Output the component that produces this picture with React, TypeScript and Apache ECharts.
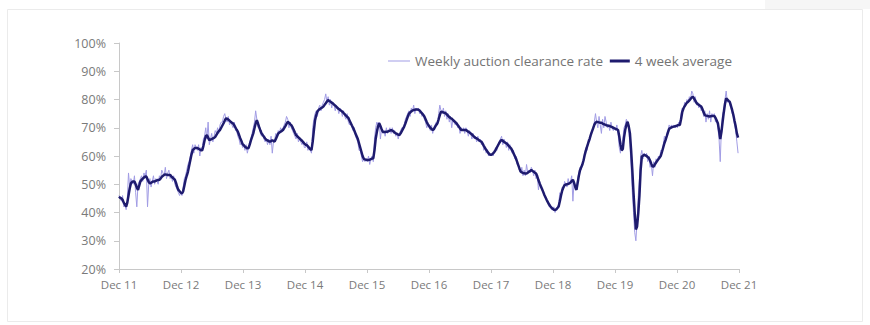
import React, { useEffect, useRef } from "react";
import * as echarts from "echarts";

// Week index 0 = first week of Dec 2011, one value per week
const weeklyRate = [
  46,45,44,46,42,43,41,45,54,49,52,51,50,53,47,42,50,51,52,53,51,54,53,55,42,50,52,49,51,53,50,52,51,50,53,52,55,54,53,56,52,54,55,52,53,51,53,50,49,48,47,46,47,
  46,49,52,53,55,57,58,60,62,64,61,64,63,62,64,60,63,62,66,67,70,66,72,64,66,68,65,67,69,68,70,68,71,72,72,74,75,73,72,74,71,72,71,70,72,69,69,67,66,64,65,63,
  64,62,64,61,63,65,66,68,70,72,76,73,70,70,68,67,68,66,65,66,64,66,64,67,61,65,66,68,67,69,68,70,69,70,71,72,74,73,70,72,70,69,68,67,66,68,65,66,65,64,65,63,
  63,65,62,63,62,61,70,73,75,76,74,77,78,76,78,79,80,82,79,81,78,80,77,79,78,76,78,77,75,77,76,74,76,74,73,75,72,71,72,70,69,70,67,66,65,62,62,60,58,59,58,59,
  58,60,57,59,60,58,66,70,72,71,72,66,70,68,69,67,70,68,69,70,68,70,68,69,67,68,66,68,69,70,70,71,73,74,75,76,74,77,76,78,75,77,76,77,75,76,74,75,73,72,70,71,
  70,69,71,68,70,71,72,71,75,78,76,75,77,74,76,73,75,72,74,70,73,72,71,72,70,71,68,70,69,70,68,70,69,67,69,68,66,68,66,67,65,67,65,66,64,65,62,63,61,62,60,61,
  60,61,60,62,63,62,64,65,66,67,64,66,65,63,65,62,64,62,61,62,59,60,57,57,55,54,56,53,55,53,57,54,55,54,56,55,53,55,52,53,48,51,49,48,47,46,45,44,44,42,42,41,
  41,42,40,41,42,43,47,46,49,48,51,50,49,52,50,51,53,44,51,48,49,52,54,56,55,58,59,61,63,62,66,65,68,69,70,72,75,72,70,74,71,68,73,70,74,72,70,71,69,72,70,69,
  70,69,71,68,63,61,64,66,70,71,73,72,69,64,56,47,40,33,30,37,46,52,60,62,59,61,60,61,58,60,56,57,53,58,56,59,58,60,59,62,61,64,67,65,68,69,71,70,71,70,71,70,
  71,70,72,71,75,77,76,79,78,80,79,81,80,83,82,79,81,78,79,77,78,76,77,74,76,72,75,73,76,72,75,74,75,72,73,70,66,58,70,75,76,80,83,79,80,78,77,75,74,71,69,65,61,
];

const fourWeekAvg = [
  45.6,45.2,45,44.5,43.5,42.8,42.1,43.5,46,48.5,50.3,50.8,51,51,50,48.8,48,49.5,51,51.6,52,52.4,52.7,52.7,51.8,50.8,50.3,50.5,50.8,51,51,51.2,51.4,51.5,51.6,52,52.6,53,53.3,53.5,53.4,53.3,53.3,53.3,52.8,52.4,52,51.6,50.5,49,48,47.5,47,
  46.8,47.5,49.5,51.5,53,54.4,56.5,58.5,60.5,62.1,62.5,62.8,62.8,62.8,62.6,62.3,62,62,63.5,65.5,67,67.4,66.5,65.6,65.8,66,66.2,66.4,66.8,67.5,68.2,68.8,69.2,70,70.8,71.6,72.5,73.3,73.2,72.9,72.5,72.1,71.8,71.5,70.9,70.1,69.3,68.6,67.5,66.3,65.3,64.2,
  63.8,63.3,63,62.7,62.8,64,65.5,66.8,68,69.8,71.5,72.7,71.5,70.2,69,68,67.4,66.8,66.2,65.7,65.5,65.2,65.1,65.3,65.6,65.3,65.1,66,67,68,68.3,68.6,68.9,69.2,69.9,70.6,71.4,72.1,71.8,71.3,70.9,70.2,69.3,68.3,67.4,67,66.6,66.2,65.8,65.4,64.9,64.4,
  64,63.9,63.4,62.9,62.4,62.1,65,69,72.7,74.5,75.8,76.3,76.6,76.9,77.2,77.5,78.1,78.7,79.3,79.8,79.5,79.2,78.9,78.6,78.2,77.8,77.4,77,76.6,76.3,76,75.7,75.2,74.8,74.3,73.9,73.5,72.6,71.7,70.8,70,69,68,67,66,64.5,63,61.5,60,59,58.8,58.7,
  58.6,58.6,58.7,58.9,59.1,59.2,62,66,68.5,70.5,71.6,70.6,69.5,68.6,68.5,68.5,68.6,68.6,68.8,69,69.2,69,68.7,68.3,68,67.8,67.6,67.4,68,68.8,69.6,70.4,71.5,72.7,73.9,75,75.4,75.8,76.1,76.3,76.4,76.5,76.5,76.4,76.1,75.6,75.1,74.6,74,73,72,71.2,
  70.6,70,69.6,69.2,69.5,70.3,71,71.6,73,74.5,75.7,75.6,75.4,75.3,75.1,74.7,74.2,73.8,73.4,73.2,72.8,72.4,72,71.6,71,70.4,69.8,69.2,69.2,69.2,69.2,69.2,68.9,68.6,68.3,68,67.6,67.2,66.8,66.4,66.2,65.9,65.6,65.3,65.1,64.4,63.6,62.9,62.2,61.6,61,60.5,
  60.4,60.6,61,61.5,62.2,63,63.8,64.6,65.3,65.7,65.4,65,64.7,64.5,64.1,63.6,63.1,62.7,61.9,61,60.1,59.2,58,56.8,55.6,54.5,54.2,54,53.9,53.8,53.8,54.1,54.4,54.7,55,54.7,54.4,54.1,53.8,52.8,51.5,50.3,49.3,48.3,47.3,46.2,45.3,44.4,43.6,42.8,42.2,41.7,
  41.3,41,40.9,41.1,41.6,42.1,44,46,47.8,48.9,49.7,49.9,50,50.1,50.3,50.6,51.1,51.6,50.5,49,48,50.5,53,55,56,57,58.5,60.5,62.1,63.4,64.7,66,67.4,68.6,69.8,71,71.8,72.1,72,71.9,71.8,71.8,71.5,71.3,71.1,70.9,70.8,70.7,70.6,70.4,70.2,70,
  69.8,69.6,69.4,69.2,67,64,62,62.5,66.5,69.2,71,72.1,70.5,68,62,55,47,40,34,35,39.7,46,55,59.8,60.1,60.4,60.2,60,59.6,59.2,58.3,57.2,56.3,56.3,57,57.7,58.3,58.9,59.5,60.1,61.5,63,64.5,65.7,67,68.4,69.6,69.9,70.1,70.3,70.4,70.5,
  70.7,70.8,71,71,73,75.5,76.8,77.6,78.3,78.9,79.2,79.7,80.2,80.7,81,80.3,79.6,78.8,78.4,78.1,77.8,77.5,76.6,75.5,74.5,74.3,74.2,74.1,74,74.1,74.2,74.2,74.2,73.5,72.6,71.6,69,66,68.5,72.1,75.5,78.5,80.4,80,79.5,79.2,77.8,76.3,74.6,72.5,70.5,68,66.5,
];

const yearLabels = ["Dec 11", "Dec 12", "Dec 13", "Dec 14", "Dec 15", "Dec 16", "Dec 17", "Dec 18", "Dec 19", "Dec 20", "Dec 21"];
const seriesNames = ["Weekly auction clearance rate", "4 week average"];

const FONT = "'Open Sans', sans-serif";
const WEEKLY_COLOR = "#a19ce4";
const AVG_COLOR = "#1e1b6e";

export default function App() {
  const ref = useRef<HTMLDivElement>(null);
  useEffect(() => {
    if (!ref.current) return;
    const chart = echarts.init(ref.current, null, { renderer: "svg" });
    const toPoint = (v: number, i: number) => [(i * 7) / 365.25, v];
    const legendText = { color: "#747474", fontSize: 13.5, fontFamily: FONT };
    chart.setOption({
      animation: false,
      backgroundColor: "#ffffff",
      textStyle: { fontFamily: FONT },
      graphic: [
        { type: "rect", shape: { x: 765, y: 0, width: 105, height: 9 }, style: { fill: "#f6f6f6" }, silent: true },
        { type: "rect", shape: { x: 7.5, y: 9.5, width: 855, height: 312 }, style: { fill: "none", stroke: "#ebebeb", lineWidth: 1 }, silent: true },
      ],
      grid: { left: 119, right: 131, top: 43, bottom: 56 },
      legend: [
        {
          right: 262,
          top: 49,
          icon: "rect",
          itemWidth: 22,
          itemHeight: 1,
          textStyle: legendText,
          data: [seriesNames[0]],
        },
        {
          right: 133,
          top: 49,
          icon: "rect",
          itemWidth: 20,
          itemHeight: 3,
          textStyle: legendText,
          data: [seriesNames[1]],
        },
      ],
      xAxis: {
        type: "value",
        min: 0,
        max: 10,
        interval: 1,
        axisLine: { lineStyle: { color: "#c8c8c8", width: 1 } },
        axisTick: { show: true, length: 4, lineStyle: { color: "#c8c8c8" } },
        axisLabel: {
          color: "#7a7a7a",
          fontSize: 11.5,
          margin: 9,
          fontFamily: FONT,
          formatter: (v: number) => yearLabels[Math.round(v)] ?? "",
        },
        splitLine: { show: false },
      },
      yAxis: {
        type: "value",
        min: 20,
        max: 100,
        interval: 10,
        axisLine: { show: true, lineStyle: { color: "#c8c8c8", width: 1 } },
        axisTick: { show: true, length: 5, lineStyle: { color: "#c8c8c8" } },
        axisLabel: { color: "#7a7a7a", fontSize: 12.5, margin: 13, fontFamily: FONT, formatter: "{value}%" },
        splitLine: { show: false },
      },
      series: [
        {
          name: seriesNames[0],
          type: "line",
          showSymbol: false,
          symbol: "none",
          data: weeklyRate.map(toPoint),
          lineStyle: { color: WEEKLY_COLOR, width: 1 },
          itemStyle: { color: WEEKLY_COLOR },
          z: 2,
        },
        {
          name: seriesNames[1],
          type: "line",
          showSymbol: false,
          symbol: "none",
          data: fourWeekAvg.map(toPoint),
          lineStyle: { color: AVG_COLOR, width: 2.5 },
          itemStyle: { color: AVG_COLOR },
          z: 3,
        },
      ],
    });
    return () => chart.dispose();
  }, []);
  return (
    <div style={{ position: "fixed", left: 0, top: 0, width: 870, height: 325, background: "#fff" }}>
      <div ref={ref} style={{ width: 870, height: 325 }} />
    </div>
  );
}
